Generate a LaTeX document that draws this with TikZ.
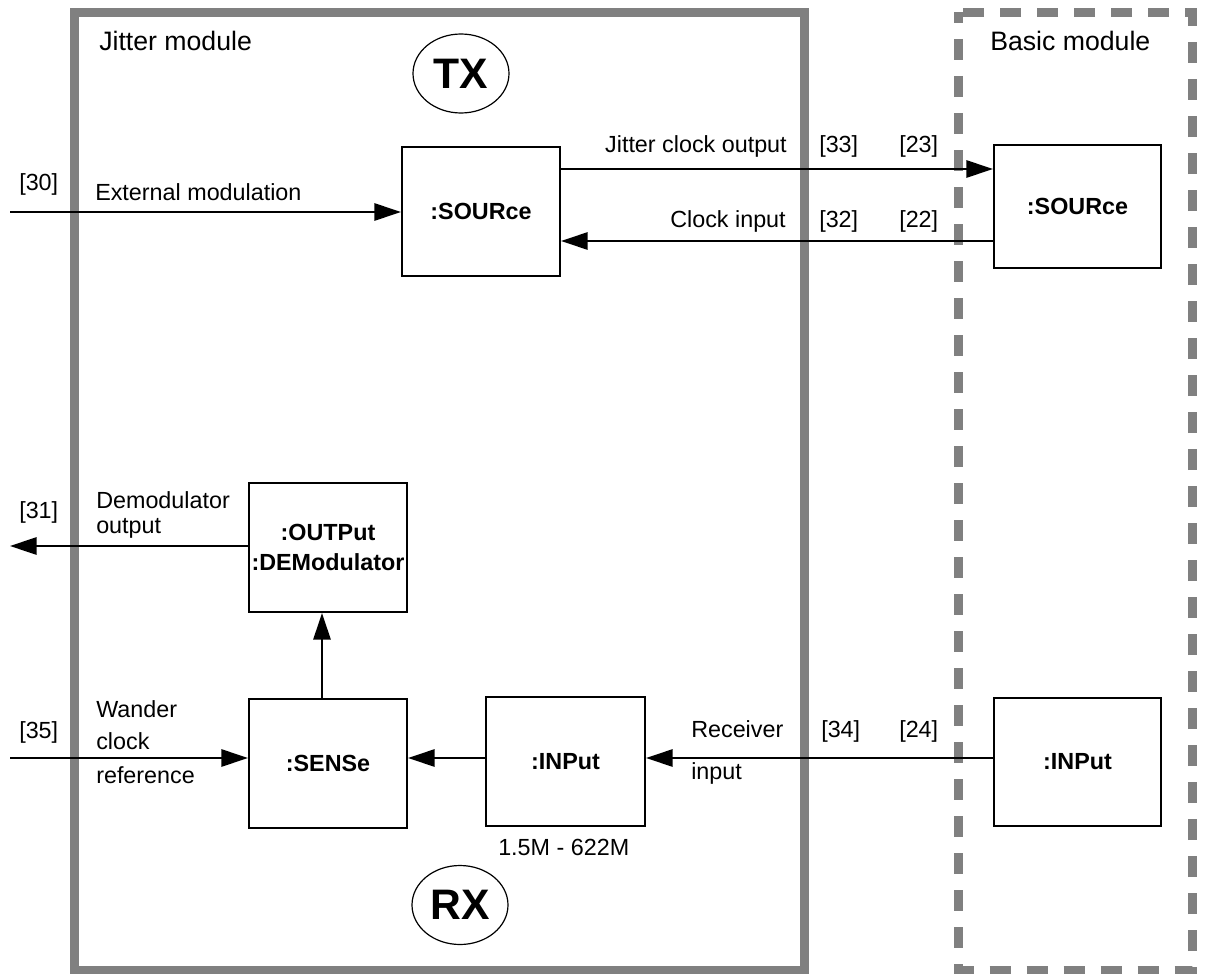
\documentclass[tikz,border=0pt]{standalone}
\usepackage{fontspec}
\setmainfont{Liberation Sans}
\usetikzlibrary{arrows.meta,shapes.geometric}
\definecolor{framegray}{RGB}{128,128,128}
\begin{document}
\begin{tikzpicture}[x=0.75pt,y=-0.75pt,
  lbl/.style={font=\fontsize{17.5}{21}\selectfont, inner sep=0pt, anchor=base west},
  lble/.style={lbl, anchor=base east},
  ttl/.style={lbl, font=\fontsize{20}{24}\selectfont},
  blk/.style={draw, line width=1.6pt, inner sep=0pt, font=\bfseries\fontsize{17.5}{22.5}\selectfont, align=center},
  oval/.style={draw, ellipse, line width=0.9pt, inner sep=0pt, minimum width=72pt, minimum height=59.25pt, font=\bfseries\fontsize{32}{36}\selectfont},
  conn/.style={line width=1.5pt, -{Triangle[length=20pt,width=13pt]}},
  solidframe/.style={draw=framegray, line width=6.75pt},
  dashframe/.style={draw=framegray, line width=6.75pt, dash pattern=on 15.75pt off 12pt, dash phase=7.875pt}
]
\useasboundingbox (0,0) rectangle (1207,974);

% module frames
\draw[solidframe] (74.5,12.5) rectangle (804.5,970);
\draw[dashframe] (958.5,12.5) rectangle (1192.5,970);

% titles
\node[ttl] (tjit) at (99,51) {Jitter module};
\node[ttl] (tbas) at (990,51) {Basic module};

% ovals
\node[oval] (tx) at (461,73.5) {TX};
\node[oval] (rx) at (460,905) {RX};

% blocks
\node[blk, minimum width=118.5pt, minimum height=96.75pt] (txsrc) at (481,211.5) {:SOURce};
\node[blk, minimum width=125.25pt, minimum height=92.25pt] (bsrc) at (1077.5,206.5) {:SOURce};
\node[blk, minimum width=118.5pt, minimum height=96.75pt] (outp) at (328,547.5) {:OUTPut\\:DEModulator};
\node[blk, minimum width=118.5pt, minimum height=96.75pt] (sense) at (328,763.5) {:SENSe};
\node[blk, minimum width=119.25pt, minimum height=96.75pt] (inp) at (565.5,761.5) {:INPut};
\node[blk, minimum width=125.25pt, minimum height=96pt] (binp) at (1077.5,762) {:INPut};

% connector helper coordinates
\coordinate (emin) at (10,212);
\coordinate (jcy) at (700,169);
\coordinate (ciy) at (700,241);
\coordinate (dmo) at (10,546);
\coordinate (vx) at (322,650);
\coordinate (wc) at (10,758);

% connectors
\draw[conn] (emin) -- (emin -| txsrc.west);
\draw[conn] (jcy -| txsrc.east) -- (jcy -| bsrc.west);
\draw[conn] (ciy -| bsrc.west) -- (ciy -| txsrc.east);
\draw[conn] (dmo -| outp.west) -- (dmo);
\draw[conn] (vx |- sense.north) -- (vx |- outp.south);
\draw[conn] (wc) -- (wc -| sense.west);
\draw[conn] (wc -| inp.west) -- (wc -| sense.east);
\draw[conn] (wc -| binp.west) -- (wc -| inp.east);

% labels
\node[lbl] (l30) at (19,190) {[30]};
\node[lbl] (lem) at (95,200) {External modulation};
\node[lble] (ljco) at (787,152) {Jitter clock output};
\node[lbl] (l33) at (819,152) {[33]};
\node[lbl] (l23) at (899,152) {[23]};
\node[lble] (lci) at (786,227) {Clock input};
\node[lbl] (l32) at (819,227) {[32]};
\node[lbl] (l22) at (899,227) {[22]};
\node[lbl] (l31) at (19,518) {[31]};
\node[lbl] (ldm) at (96,508) {Demodulator};
\node[lbl] (ldo) at (96,533) {output};
\node[lbl] (l35) at (19,738) {[35]};
\node[lbl] (lwa) at (96,717) {Wander};
\node[lbl] (lcl) at (96,749) {clock};
\node[lbl] (lre) at (96,783) {reference};
\node[lbl] (lrc) at (691,737) {Receiver};
\node[lbl] (lri) at (691,779) {input};
\node[lbl] (l34) at (821,737) {[34]};
\node[lbl] (l24) at (899,737) {[24]};
\node[lbl] (lrange) at (498,855) {1.5M - 622M};
\end{tikzpicture}
\end{document}
